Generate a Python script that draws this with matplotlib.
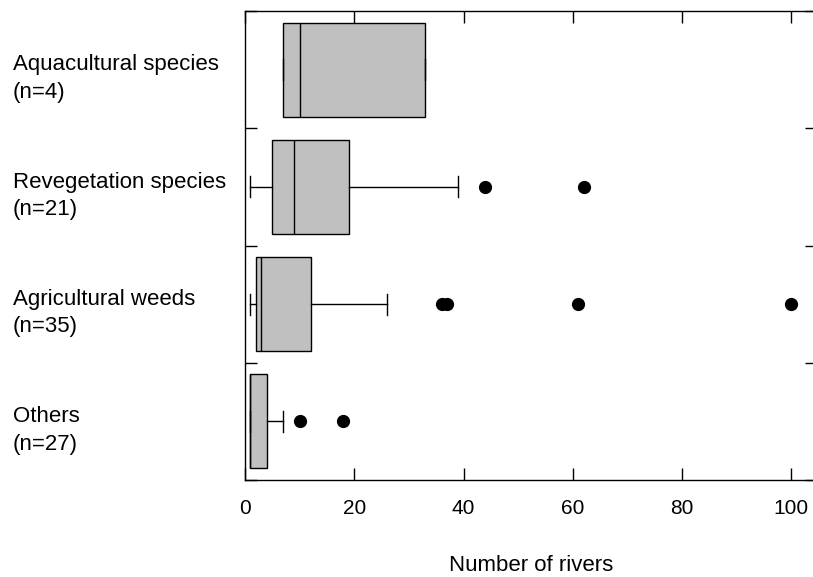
import matplotlib
matplotlib.use("Agg")
import matplotlib.pyplot as plt
from matplotlib.transforms import blended_transform_factory, ScaledTranslation

plt.rcParams["font.family"] = ["Liberation Sans", "DejaVu Sans"]
plt.rcParams["font.size"] = 16

# gruppen von oben nach unten
labels = ["Aquacultural species\n(n=4)", "Revegetation species\n(n=21)",
          "Agricultural weeds\n(n=35)", "Others\n(n=27)"]
whislo = [7, 1, 1, 1]
q1 = [7, 5, 2, 1]
med = [10, 9, 3, 1]
q3 = [33, 19, 12, 4]
whishi = [33, 39, 26, 7]
fliers = [[], [44, 62], [36, 37, 61, 100], [10, 18]]

stats = []
for i in range(len(labels)):
    stats.append({"label": labels[i], "whislo": whislo[i], "q1": q1[i], "med": med[i],
                  "q3": q3[i], "whishi": whishi[i], "fliers": fliers[i]})

fig = plt.figure(figsize=(8.13, 5.77), dpi=100)
# rechter rand liegt ausserhalb des bildes (wie im original abgeschnitten)
ax = fig.add_axes([245 / 813, 1 - 480 / 577, (817 - 245) / 813, (480 - 11) / 577])

pos = [4, 3, 2, 1]
ax.bxp(stats, positions=pos, vert=False, widths=0.8, patch_artist=True,
       capwidths=0.18,
       boxprops=dict(facecolor="#c0c0c0", edgecolor="black", linewidth=1.0),
       medianprops=dict(color="black", linewidth=1.0),
       whiskerprops=dict(color="black", linewidth=1.0),
       capprops=dict(color="black", linewidth=1.0),
       flierprops=dict(marker="o", markerfacecolor="black", markeredgecolor="black",
                       markersize=8.5))

ax.set_xlim(0, 104.7)
ax.set_ylim(0.5, 4.5)
ax.set_xticks([0, 20, 40, 60, 80, 100])
ax.set_yticks([])
ax.set_yticks([0.5, 1.5, 2.5, 3.5, 4.5], minor=True)
ax.tick_params(axis="x", direction="in", length=8.5, width=1, top=True, pad=14, labelsize=15)
ax.tick_params(axis="y", which="minor", direction="in", length=8.5, width=1, left=True, right=True)
for s in ax.spines.values():
    s.set_linewidth(1.0)

# beschriftung der gruppen links, etwas unter der mitte
trans = blended_transform_factory(fig.transFigure, ax.transData) + \
    ScaledTranslation(0, -9 / 100, fig.dpi_scale_trans)
for p, lab in zip(pos, labels):
    ax.text(13 / 813, p, lab, transform=trans, ha="left", va="center", linespacing=1.4)

# etwas hoeher als im original, damit der text nicht am rand abgeschnitten wird
ax.set_xlabel("Number of rivers", labelpad=26)

fig.savefig("out.png", dpi=100)
